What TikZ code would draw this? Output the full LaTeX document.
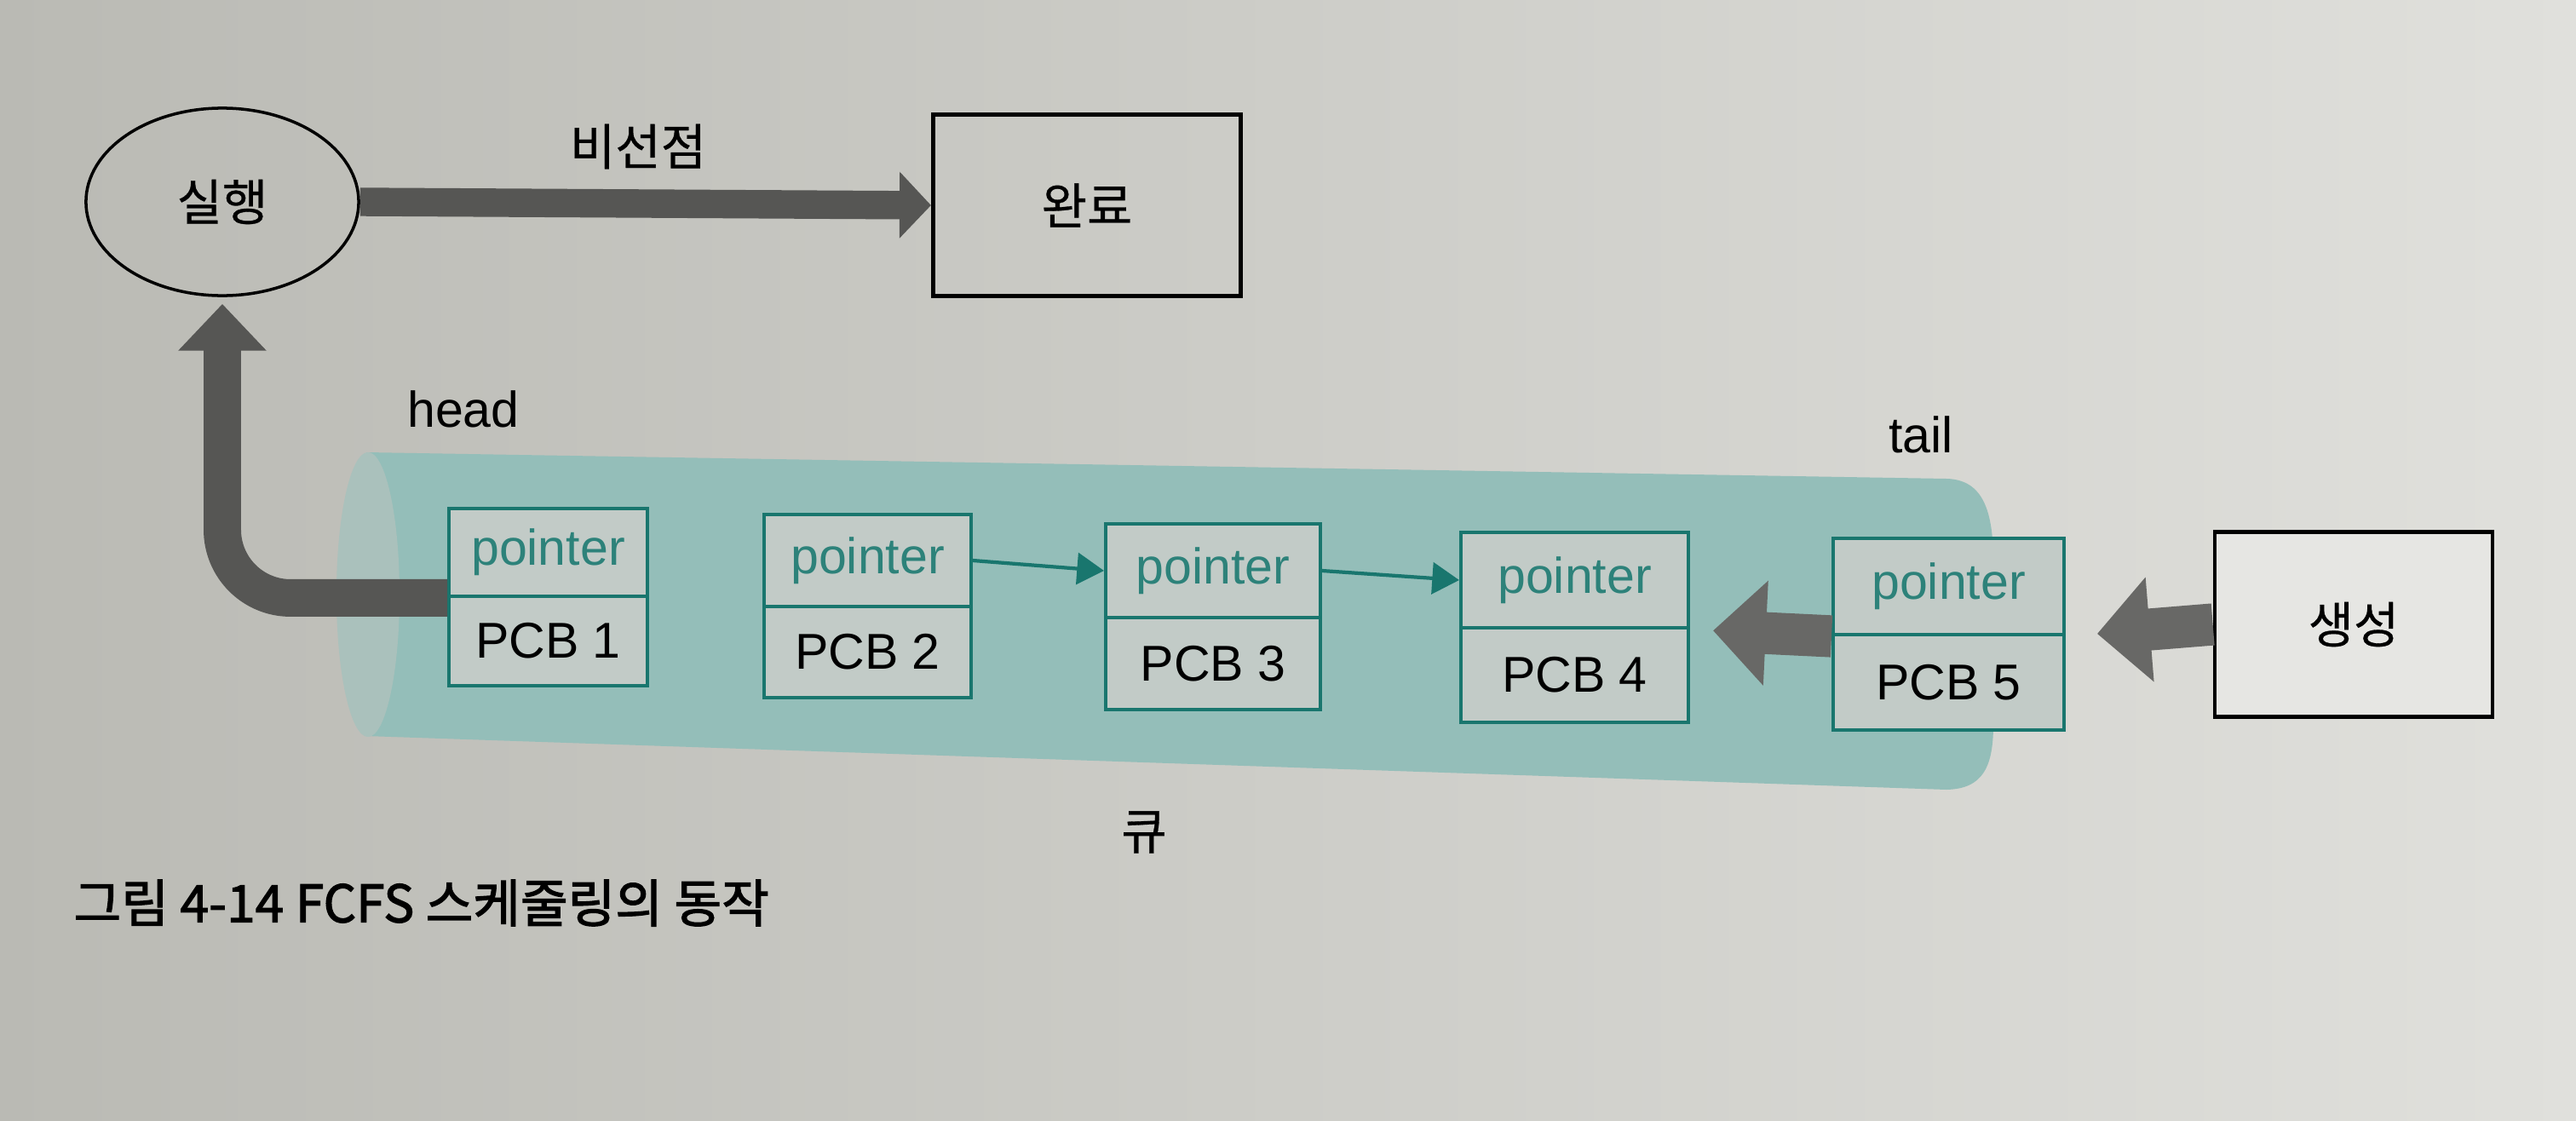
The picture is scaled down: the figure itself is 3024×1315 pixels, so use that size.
\documentclass[tikz,border=0pt]{standalone}
\usepackage{fontspec}
\setmainfont{Liberation Sans}
\newfontfamily\kr[FakeBold=0.5]{Noto Sans CJK KR}
\newfontfamily\krcap[FakeBold=2]{Noto Sans CJK KR}
\usetikzlibrary{arrows.meta,shapes.geometric}
\definecolor{bgL}{RGB}{186,186,180}
\definecolor{bgR}{RGB}{224,224,220}
\definecolor{qteal}{RGB}{148,190,185}
\definecolor{qface}{RGB}{170,193,188}
\definecolor{tealdark}{RGB}{25,118,110}
\definecolor{tealtext}{RGB}{45,130,122}
\definecolor{cellfill}{RGB}{194,203,199}
\definecolor{fatgray}{RGB}{86,86,84}
\definecolor{fatgray2}{RGB}{104,104,102}
\newcommand\pcbpair[7]{%
  \node[ptrcell, minimum width=#3cm, minimum height=#5cm] (p#1) at (#2,#4) {pointer};
  \node[pcbcell, minimum width=#3cm, minimum height=#7cm] (c#1) at (#2,#6) {PCB #1};
}
\tikzset{
  latin/.style={font=\fontsize{16.8pt}{20pt}\selectfont},
  kor/.style={font=\kr\fontsize{16.5pt}{20pt}\selectfont},
  ptrcell/.style={draw=tealdark, line width=1.1pt, fill=cellfill, inner sep=0pt,
    text=tealtext, font=\fontsize{16.8pt}{20pt}\selectfont},
  pcbcell/.style={draw=tealdark, line width=1.1pt, fill=cellfill, inner sep=0pt,
    text=black, font=\fontsize{16.8pt}{20pt}\selectfont},
  tealarrow/.style={draw=tealdark, line width=1.2pt, -{Triangle[length=9pt,width=10.5pt]}},
  fattop/.style={draw=fatgray, line width=9.5pt, -{Triangle[length=10.5pt,width=21.6pt]}},
  fatup/.style={draw=fatgray, line width=12.5pt, rounded corners=0.8cm, -{Triangle[length=15.6pt,width=28.5pt]}},
  fatbot/.style={draw=fatgray2, line width=14pt, -{Triangle[length=17.6pt,width=34pt]}},
}
\begin{document}
\begin{tikzpicture}[x=0.01cm,y=-0.01cm]
  % background page
  \fill[left color=bgL, right color=bgR] (0,0) rectangle (3024,1315);
  \useasboundingbox (0,0) rectangle (3024,1315);

  % queue cylinder
  \fill[qteal] (430,531) -- (2285,562) .. controls (2328,563) and (2340,600) .. (2340,660)
     -- (2340,850) .. controls (2340,900) and (2328,926) .. (2285,927)
     -- (430,864) -- cycle;
  \fill[qface] (432,698) ellipse [x radius=0.37cm, y radius=1.67cm];

  % top nodes
  \node[ellipse, draw, line width=1pt, minimum width=3.2cm, minimum height=2.2cm, kor] (run) at (261,237) {실행};
  \node[rectangle, draw, line width=1.4pt, minimum width=3.61cm, minimum height=2.12cm, kor] (done) at (1276,241) {완료};
  \node[rectangle, draw, line width=1.3pt, fill=bgR!80!white, minimum width=3.26cm, minimum height=2.17cm, kor] (gen) at (2763,733) {생성};

  % PCB cells
  \pcbpair{1}{643.5}{2.33}{648.5}{1.03}{752.5}{1.05}
  \pcbpair{2}{1018.5}{2.43}{658}{1.08}{765.5}{1.07}
  \pcbpair{3}{1424}{2.52}{670}{1.10}{779}{1.08}
  \pcbpair{4}{1848.5}{2.67}{681}{1.12}{792.5}{1.11}
  \pcbpair{5}{2287.5}{2.71}{688.5}{1.13}{801}{1.12}

  % connectors
  \draw[fattop] (run.east) -- (done.west);
  \draw[fatup, shorten >=0.08cm] (p1.south west) -| (run.south);
  \draw[tealarrow] (p2.east) -- (p3.west);
  \draw[tealarrow] (p3.east) -- (p4.west);
  \draw[fatbot, shorten >=0.27cm] (p5.south west) -- (p4.south east);
  \draw[fatbot, shorten >=0.37cm] (gen.west) -- (p5.south east);

  % labels
  \node[kor] (lblnp) at (749,172) {비선점};
  \node[latin] (lblhead) at (544,480) {head};
  \node[latin] (lbltail) at (2255,510) {tail};
  \node[kor] (lblq) at (1343,977) {큐};
  \node[anchor=west, inner sep=0pt, font=\krcap\fontsize{17.2pt}{20pt}\selectfont] (caption) at (86,1060) {그림 4-14 FCFS 스케줄링의 동작};
\end{tikzpicture}
\end{document}
